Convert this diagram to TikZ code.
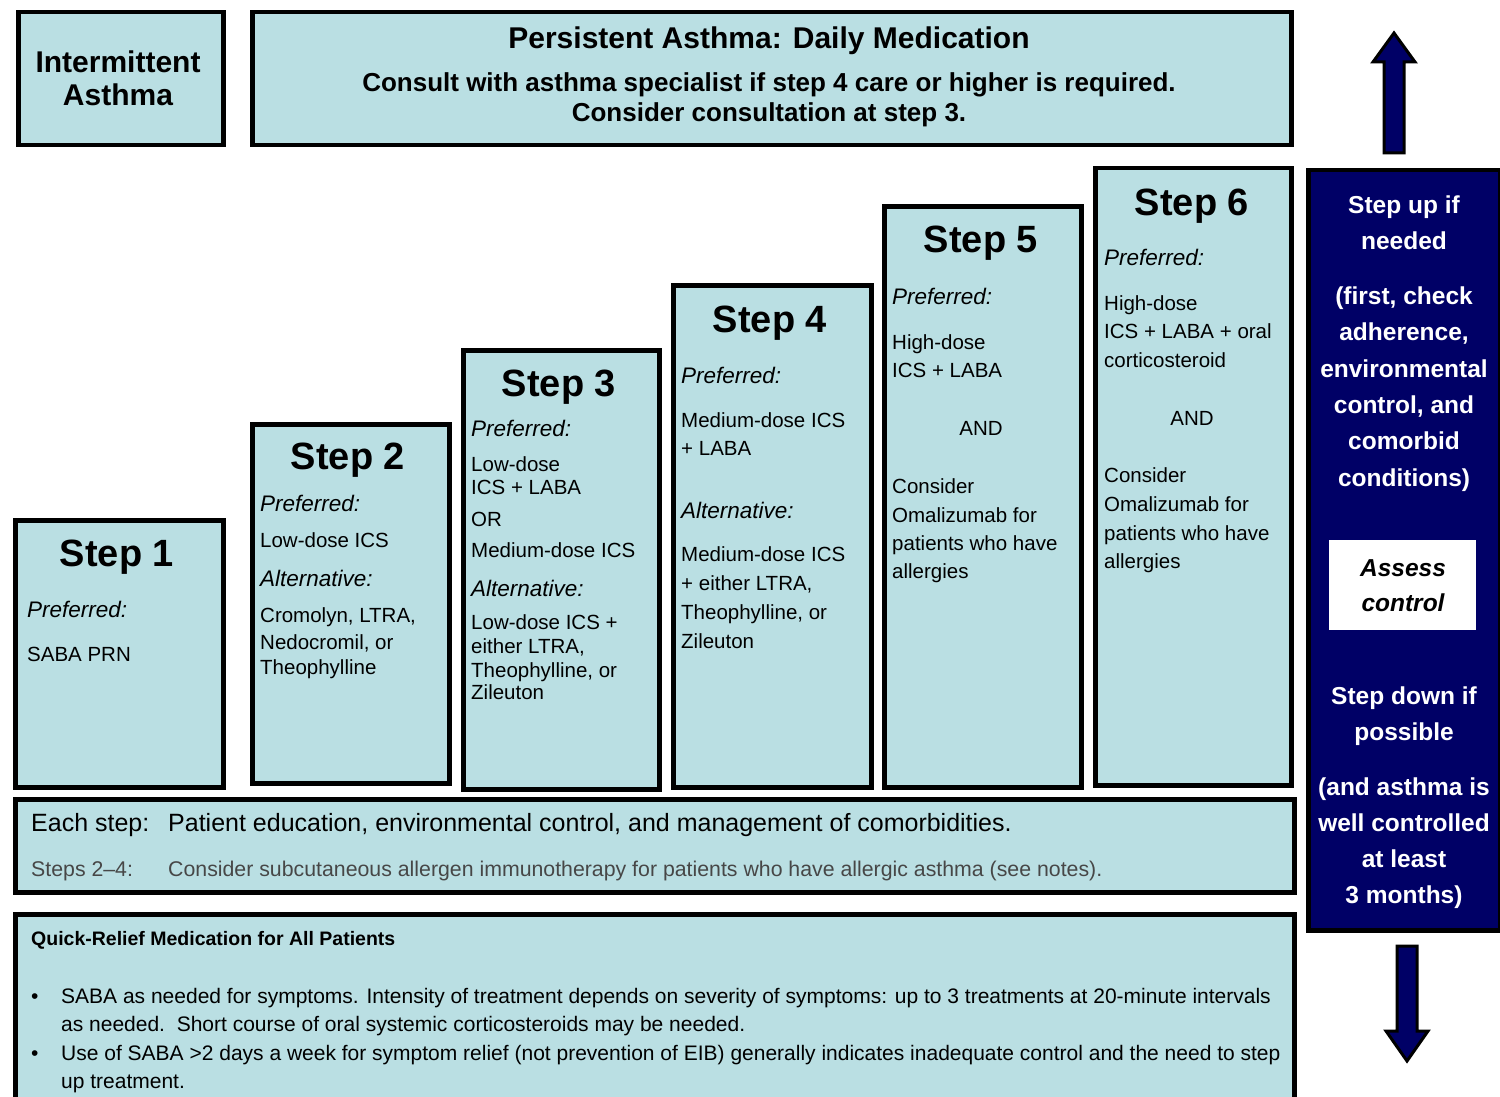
\documentclass[tikz,border=0pt]{standalone}
\usepackage{fontspec}
\setmainfont{Liberation Sans}
\definecolor{lb}{RGB}{186,223,227}
\definecolor{navy}{RGB}{0,0,102}
\newcommand\bx[6][box]{\node[#1, minimum width={(#4-#2)*1pt}, minimum height={(#5-#3)*1pt}] (#6) at (#2,#3) {};}
\tikzset{
  box/.style={draw=black, line width=4.5pt, fill=lb, inner sep=0pt, anchor=north west},
  navybox/.style={draw=black, line width=4.5pt, fill=navy, inner sep=0pt, anchor=north west},
  whitebox/.style={draw=none, fill=white, inner sep=0pt, anchor=north west},
  arrowshape/.style={draw=black, line width=3pt, fill=navy, line join=miter},
  bt/.style={inner sep=0pt},
  tl/.style={bt, anchor=base west},
  title/.style={bt, anchor=base, font=\fontsize{38}{40}\selectfont\bfseries},
  pref/.style={tl, font=\fontsize{22.5}{26}\selectfont\itshape},
  item/.style={tl, font=\fontsize{20.5}{24}\selectfont},
  itemc/.style={bt, anchor=base, font=\fontsize{20.5}{24}\selectfont},
  head/.style={bt, anchor=base, font=\fontsize{30}{32}\selectfont\bfseries},
  sub/.style={bt, anchor=base, font=\fontsize{26}{28}\selectfont\bfseries},
  side/.style={bt, anchor=base, text=white, font=\fontsize{24.5}{28}\selectfont\bfseries},
  assess/.style={bt, anchor=base, font=\fontsize{24.5}{28}\selectfont\bfseries\itshape},
  row/.style={tl, font=\fontsize{25}{28}\selectfont},
  rowg/.style={tl, text=black!72, font=\fontsize{21.3}{24}\selectfont},
  qr/.style={tl, font=\fontsize{21}{23}\selectfont},
}
\begin{document}
\begin{tikzpicture}[x=1pt,y=-1pt]
\useasboundingbox (0,0) rectangle (1500,1097);
% boxes
\bx{16}{10}{221}{143}{inter}
\bx{250}{10}{1289}{143}{pers}
\bx{13}{518}{221}{785}{s1}
\bx{250}{422}{447}{781}{s2}
\bx{461}{348}{657}{787}{s3}
\bx{671}{283}{869}{785}{s4}
\bx{882}{204}{1079}{785}{s5}
\bx{1093}{166}{1289}{783}{s6}
\bx{13}{797}{1292}{890}{each}
\bx{13}{912}{1292}{1130}{quick}
\bx[navybox]{1306}{168}{1498}{928}{side}
\bx[whitebox]{1329}{540}{1476}{630}{assessbox}
% arrows
\draw[arrowshape] (1384,153) -- (1404,153) -- (1404,62) -- (1415,62) -- (1394,33) -- (1373,62) -- (1384,62) -- cycle;
\draw[arrowshape] (1397,946) -- (1417,946) -- (1417,1031) -- (1428,1031) -- (1407,1061) -- (1386,1031) -- (1397,1031) -- cycle;
% header texts
\node[head] (i1) at (118,73) {Intermittent};
\node[head] (i2) at (118,106) {Asthma};
\node[head] (p1) at (769,49) {Persistent Asthma: Daily Medication};
\node[sub] (p2) at (769,92) {Consult with asthma specialist if step 4 care or higher is required.};
\node[sub] (p3) at (769,122) {Consider consultation at step 3.};
% step 1
\node[title] (s1t) at (117,566) {Step 1};
\node[pref] (s1a) at (27,617) {Preferred:};
\node[item] (s1b) at (27,661) {SABA PRN};
% step 2
\node[title] (s2t) at (348,469) {Step 2};
\node[pref] (s2a) at (260,511) {Preferred:};
\node[item] (s2b) at (260,547) {Low-dose ICS};
\node[pref] (s2c) at (260,586) {Alternative:};
\node[item] (s2d) at (260,622) {Cromolyn, LTRA,};
\node[item] (s2e) at (260,649) {Nedocromil, or};
\node[item] (s2f) at (260,674) {Theophylline};
% step 3
\node[title] (s3t) at (559,396) {Step 3};
\node[pref] (s3a) at (471,436) {Preferred:};
\node[item] (s3b) at (471,471) {Low-dose};
\node[item] (s3c) at (471,494) {ICS + LABA};
\node[item] (s3d) at (471,526) {OR};
\node[item] (s3e) at (471,557) {Medium-dose ICS};
\node[pref] (s3f) at (471,596) {Alternative:};
\node[item] (s3g) at (471,629) {Low-dose ICS +};
\node[item] (s3h) at (471,653) {either LTRA,};
\node[item] (s3i) at (471,677) {Theophylline, or};
\node[item] (s3j) at (471,699) {Zileuton};
% step 4
\node[title] (s4t) at (770,332) {Step 4};
\node[pref] (s4a) at (681,383) {Preferred:};
\node[item] (s4b) at (681,427) {Medium-dose ICS};
\node[item] (s4c) at (681,455) {+ LABA};
\node[pref] (s4d) at (681,518) {Alternative:};
\node[item] (s4e) at (681,561) {Medium-dose ICS};
\node[item] (s4f) at (681,590) {+ either LTRA,};
\node[item] (s4g) at (681,619) {Theophylline, or};
\node[item] (s4h) at (681,648) {Zileuton};
% step 5
\node[title] (s5t) at (981,252) {Step 5};
\node[pref] (s5a) at (892,304) {Preferred:};
\node[item] (s5b) at (892,349) {High-dose};
\node[item] (s5c) at (892,377) {ICS + LABA};
\node[itemc] (s5d) at (981,435) {AND};
\node[item] (s5e) at (892,493) {Consider};
\node[item] (s5f) at (892,522) {Omalizumab for};
\node[item] (s5g) at (892,550) {patients who have};
\node[item] (s5h) at (892,578) {allergies};
% step 6
\node[title] (s6t) at (1192,215) {Step 6};
\node[pref] (s6a) at (1104,265) {Preferred:};
\node[item] (s6b) at (1104,310) {High-dose};
\node[item] (s6c) at (1104,338) {ICS + LABA + oral};
\node[item] (s6d) at (1104,367) {corticosteroid};
\node[itemc] (s6e) at (1192,425) {AND};
\node[item] (s6f) at (1104,482) {Consider};
\node[item] (s6g) at (1104,511) {Omalizumab for};
\node[item] (s6h) at (1104,540) {patients who have};
\node[item] (s6i) at (1104,568) {allergies};
% side panel
\node[side] (r1) at (1404,213) {Step up if};
\node[side] (r2) at (1404,249) {needed};
\node[side] (r3) at (1404,304) {(first, check};
\node[side] (r4) at (1404,340) {adherence,};
\node[side] (r5) at (1404,377) {environmental};
\node[side] (r6) at (1404,413) {control, and};
\node[side] (r7) at (1404,449) {comorbid};
\node[side] (r8) at (1404,486) {conditions)};
\node[assess] (a1) at (1403,576) {Assess};
\node[assess] (a2) at (1403,611) {control};
\node[side] (r9) at (1404,704) {Step down if};
\node[side] (r10) at (1404,740) {possible};
\node[side] (r11) at (1404,795) {(and asthma is};
\node[side] (r12) at (1404,831) {well controlled};
\node[side] (r13) at (1404,867) {at least};
\node[side] (r14) at (1404,903) {3 months)};
% each step
\node[row] (e1) at (31,831) {Each step:};
\node[row] (e2) at (168,831) {Patient education, environmental control, and management of comorbidities.};
\node[rowg] (e3) at (31,876) {Steps 2--4:};
\node[rowg] (e4) at (168,876) {Consider subcutaneous allergen immunotherapy for patients who have allergic asthma (see notes).};
% quick relief
\node[qr, font=\fontsize{19.5}{23}\selectfont\bfseries] (q0) at (31,945) {Quick-Relief Medication for All Patients};
\node[qr] (qb1) at (31,1003) {\textbullet};
\node[qr] (q1) at (61,1003) {SABA as needed for symptoms. Intensity of treatment depends on severity of symptoms: up to 3 treatments at 20-minute intervals};
\node[qr] (q2) at (61,1031) {as needed.\ \ Short course of oral systemic corticosteroids may be needed.};
\node[qr] (qb2) at (31,1060) {\textbullet};
\node[qr] (q3) at (61,1060) {Use of SABA >2 days a week for symptom relief (not prevention of EIB) generally indicates inadequate control and the need to step};
\node[qr] (q4) at (61,1088) {up treatment.};
\end{tikzpicture}
\end{document}
